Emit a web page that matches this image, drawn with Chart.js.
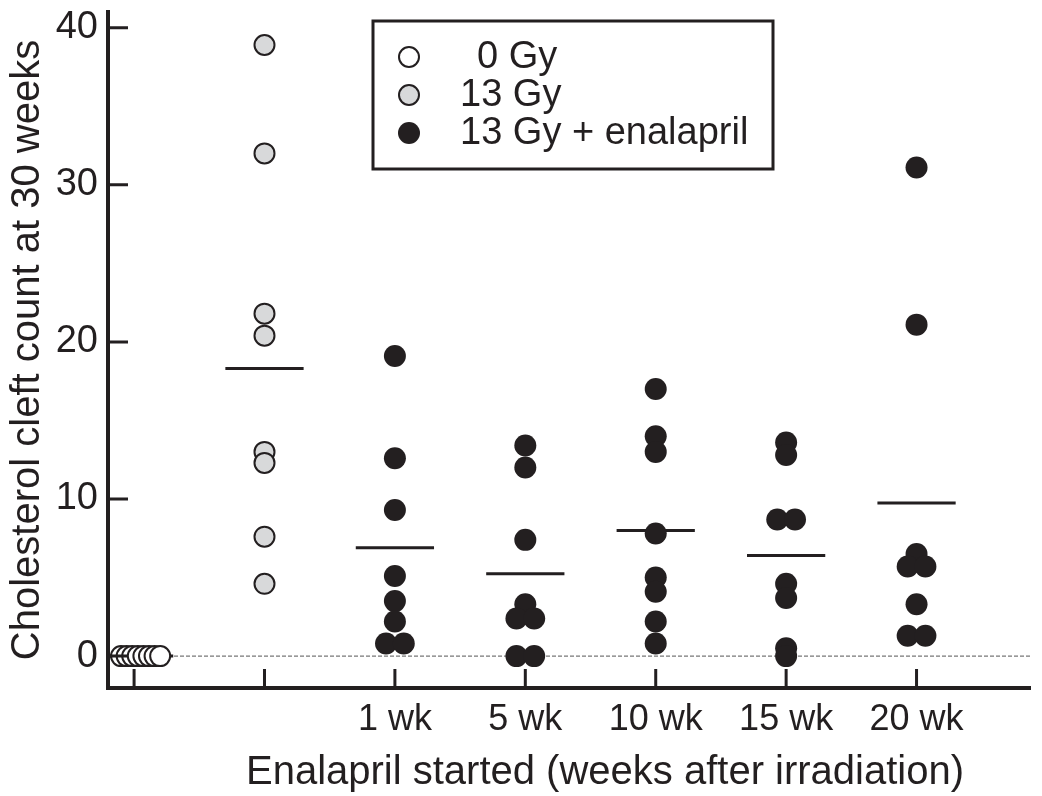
<!DOCTYPE html>
<html>
<head>
<meta charset="utf-8">
<script src="https://cdn.jsdelivr.net/npm/chart.js@4.4.0/dist/chart.umd.min.js"></script>
<style>
  html, body { margin: 0; padding: 0; background: #fff; }
  #wrap { width: 1042px; height: 796px; }
</style>
</head>
<body>
<div id="wrap"><canvas id="myChart" width="1042" height="796"></canvas></div>
<script>
  // groups along the x axis (only the enalapril ones get a label)
  const groups = ['0 Gy', '13 Gy', '1 wk', '5 wk', '10 wk', '15 wk', '20 wk'];
  const tickLabels = ['', '', '1 wk', '5 wk', '10 wk', '15 wk', '20 wk'];
  const yTicks = [0, 10, 20, 30, 40];
  const xTitle = 'Enalapril started (weeks after irradiation)';

  // cholesterol cleft counts per animal
  const control = [0, 0, 0, 0, 0, 0, 0, 0];
  const irradiated = [38.9, 32.0, 21.8, 20.4, 13.0, 12.3, 7.6, 4.6];
  const enal1 = [19.1, 12.6, 9.3, 5.1, 3.5, 2.2, 0.8, 0.8];
  const enal5 = [13.4, 12.0, 7.4, 3.3, 2.4, 2.4, 0, 0];
  const enal10 = [17.0, 14.0, 13.0, 7.8, 5.0, 4.1, 2.2, 0.8];
  const enal15 = [13.6, 12.8, 8.7, 8.7, 4.6, 3.7, 0.5, 0];
  const enal20 = [31.1, 21.1, 6.5, 5.7, 5.7, 3.3, 1.3, 1.3];
  // group means (horizontal bars)
  const means = [0, 18.3, 6.9, 5.25, 8.0, 6.4, 9.75];

  const ink = '#231f20';
  const xMin = -0.2, xMax = 6.87;

  // put equal-ish values next to each other instead of on top
  function spread(values, center) {
    const pts = values.map(v => ({ x: center, y: v }));
    const sorted = [...pts].sort((a, b) => a.y - b.y);
    let i = 0;
    while (i < sorted.length) {
      let j = i;
      while (j + 1 < sorted.length && sorted[j + 1].y - sorted[i].y < 0.3) j++;
      const n = j - i + 1;
      const step = n > 2 ? 0.3 / (n - 1) : 0.136;
      for (let k = i; k <= j; k++) sorted[k].x = center + (k - i - (n - 1) / 2) * step;
      i = j + 1;
    }
    return pts;
  }

  const enalPoints = [enal1, enal5, enal10, enal15, enal20]
    .map((vals, idx) => spread(vals, idx + 2)).flat();

  const meanPoints = [];
  means.forEach((m, i) => {
    meanPoints.push({ x: i - 0.3, y: m }, { x: i + 0.3, y: m }, { x: i + 0.31, y: null });
  });

  // inward tick marks, x title, boxed legend
  const decorations = {
    id: 'decorations',
    afterDraw(chart) {
      const ctx = chart.ctx;
      const xs = chart.scales.x, ys = chart.scales.y;
      const area = chart.chartArea;
      ctx.save();
      ctx.strokeStyle = ink;
      ctx.lineWidth = 3;
      ctx.beginPath();
      yTicks.forEach(v => {
        const py = ys.getPixelForValue(v);
        ctx.moveTo(area.left, py);
        ctx.lineTo(area.left + 20, py);
      });
      groups.forEach((g, i) => {
        const px = xs.getPixelForValue(i);
        ctx.moveTo(px, area.bottom - 2);
        ctx.lineTo(px, area.bottom - 19);
      });
      ctx.stroke();

      ctx.fillStyle = ink;
      ctx.font = '40px "Liberation Sans", Arial, sans-serif';
      ctx.textAlign = 'center';
      ctx.textBaseline = 'alphabetic';
      ctx.fillText(xTitle, 605, 784);

      // legend box
      ctx.lineWidth = 3;
      ctx.strokeRect(373, 21, 400, 148);
      const items = chart.data.datasets.filter(d => d.inLegend);
      ctx.font = '38px "Liberation Sans", Arial, sans-serif';
      ctx.textBaseline = 'middle';
      ctx.textAlign = 'left';
      items.forEach((d, k) => {
        const cy = 57 + k * 38;
        ctx.beginPath();
        ctx.arc(409, cy, d.pointRadius, 0, Math.PI * 2);
        ctx.fillStyle = d.backgroundColor;
        ctx.fill();
        if (d.borderWidth) {
          ctx.lineWidth = d.borderWidth;
          ctx.strokeStyle = d.borderColor;
          ctx.stroke();
        }
        ctx.fillStyle = ink;
        ctx.fillText(d.label, k === 0 ? 477 : 460, cy + 1);
      });
      ctx.restore();
    }
  };

  Chart.defaults.font.family = '"Liberation Sans", Arial, sans-serif';
  Chart.defaults.color = ink;

  const myChart = new Chart('myChart', {
    type: 'scatter',
    data: {
      datasets: [
        {
          label: '0 Gy',
          inLegend: true,
          data: spread(control, 0.05),
          backgroundColor: '#ffffff',
          borderColor: ink,
          borderWidth: 2,
          pointRadius: 10,
          order: 1
        },
        {
          label: '13 Gy',
          inLegend: true,
          data: spread(irradiated, 1),
          backgroundColor: '#d8d9da',
          borderColor: ink,
          borderWidth: 2,
          pointRadius: 10,
          order: 1
        },
        {
          label: '13 Gy + enalapril',
          inLegend: true,
          data: enalPoints,
          backgroundColor: ink,
          borderColor: ink,
          borderWidth: 0,
          pointRadius: 11,
          order: 1
        },
        {
          label: 'mean',
          type: 'line',
          data: meanPoints,
          borderColor: ink,
          borderWidth: 3,
          pointRadius: 0,
          spanGaps: false,
          order: 2
        },
        {
          label: 'zero',
          type: 'line',
          data: [{ x: xMin, y: 0 }, { x: xMax, y: 0 }],
          borderColor: '#555',
          borderWidth: 1,
          borderDash: [4, 2],
          pointRadius: 0,
          order: 3
        }
      ]
    },
    options: {
      responsive: false,
      animation: false,
      devicePixelRatio: 1,
      layout: { padding: { top: 9, right: 2, left: 0, bottom: 0 } },
      plugins: {
        legend: { display: false },
        tooltip: { enabled: false }
      },
      scales: {
        x: {
          type: 'linear',
          min: xMin,
          max: xMax,
          afterBuildTicks: s => { s.ticks = groups.map((g, i) => ({ value: i })); },
          afterFit: s => { s.height = 108; s.paddingLeft = 0; s.paddingRight = 0; },
          grid: { display: false, drawTicks: false },
          border: { display: true, color: ink, width: 4 },
          ticks: {
            padding: 10,
            autoSkip: false,
            maxRotation: 0,
            font: { size: 36 },
            callback: v => tickLabels[v] ?? ''
          },
          title: { display: false }
        },
        y: {
          min: -2.03,
          max: 41,
          afterBuildTicks: s => { s.ticks = yTicks.map(v => ({ value: v })); },
          afterFit: s => { s.width = 108; s.paddingTop = 0; s.paddingBottom = 0; },
          grid: { display: false, drawTicks: false },
          border: { display: true, color: ink, width: 4 },
          ticks: { padding: 10, font: { size: 38 } },
          title: {
            display: true,
            text: 'Cholesterol cleft count at 30 weeks',
            font: { size: 40 },
            padding: { top: 4, bottom: 0 }
          }
        }
      }
    },
    plugins: [decorations]
  });
</script>
</body>
</html>
